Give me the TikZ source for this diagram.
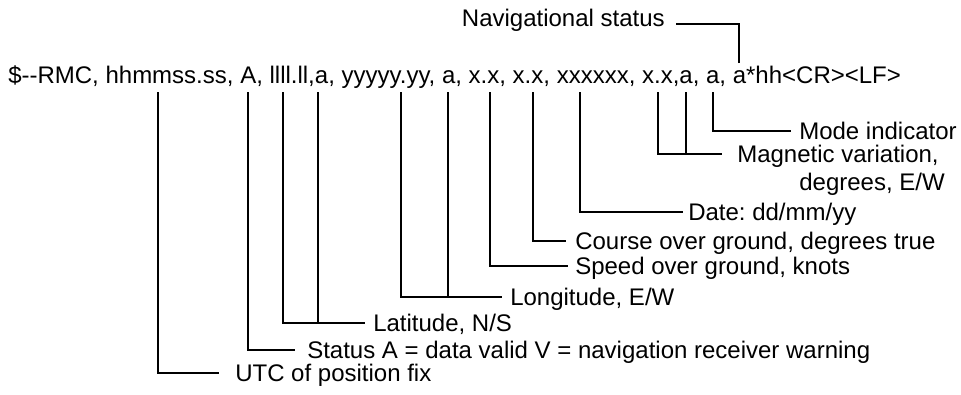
\documentclass[tikz,border=0pt]{standalone}
\usepackage{fontspec}
\setmainfont{Liberation Sans}
\usetikzlibrary{calc}
\begin{document}
\frenchspacing
\begin{tikzpicture}[x=0.75pt,y=-0.75pt,
  every node/.style={font=\fontsize{18pt}{21.6pt}\selectfont, inner sep=0pt},
  lbl/.style={anchor=west, text height=12.9pt, text depth=0pt},
  conn/.style={draw=black, line width=1.1pt}]
\useasboundingbox (0,0) rectangle (961,394);
\node[anchor=base west] (msg) at (8,83) {\$-\kern0pt-RMC, hhmmss.ss, A, llll.ll,a, yyyyy.yy, a, x.x, x.x, xxxxxx, x.x,a, a, a*hh<CR><LF>};
% tick tops
\coordinate (tutc) at (158,92);
\coordinate (tst) at (248,92);
\coordinate (tla) at (283,92);
\coordinate (tlb) at (318,92);
\coordinate (tloa) at (401,92);
\coordinate (tlob) at (448,92);
\coordinate (tsp) at (490,92);
\coordinate (tco) at (533,92);
\coordinate (tda) at (580,92);
\coordinate (tma) at (658,92);
\coordinate (tmb) at (686,92);
\coordinate (tmo) at (713,92);
\coordinate (tnav) at (739,63);
% labels
\node[lbl] (utc) at (235,373) {UTC of position fix};
\node[lbl] (st) at (307,350) {Status A = data valid V = navigation receiver warning};
\node[lbl] (lat) at (373,323) {Latitude, N/S};
\node[lbl] (lon) at (510,297) {Longitude, E/W};
\node[lbl] (sp) at (575,266) {Speed over ground, knots};
\node[lbl] (co) at (575,241) {Course over ground, degrees true};
\node[lbl] (da) at (688,212) {Date: dd/mm/yy};
\node[lbl] (mag) at (737,154) {Magnetic variation,};
\node[anchor=base east] (mag2) at ($(mag.base east)+(6,28)$) {degrees, E/W};
\node[lbl] (mo) at (799,131) {Mode indicator};
\node[anchor=base east] (nav) at (665,26) {Navigational status};
% connectors
\draw[conn] (tutc) |- ($(utc.west)+(-16,0)$);
\draw[conn] (tst) |- ($(st.west)+(-12,0)$);
\draw[conn] (tla) |- ($(lat.west)+(-8,0)$);
\draw[conn] (tlb) -- (tlb |- lat.west);
\draw[conn] (tloa) |- ($(lon.west)+(-8,0)$);
\draw[conn] (tlob) -- (tlob |- lon.west);
\draw[conn] (tsp) |- ($(sp.west)+(-7,0)$);
\draw[conn] (tco) |- ($(co.west)+(-9,0)$);
\draw[conn] (tda) |- ($(da.west)+(-5,0)$);
\draw[conn] (tma) |- ($(mag.west)+(-15,0)$);
\draw[conn] (tmb) -- (tmb |- mag.west);
\draw[conn] (tmo) |- ($(mo.west)+(-8,0)$);
\draw[conn] (tnav) |- ($(nav.base east)+(11,-2)$);
\end{tikzpicture}
\end{document}
